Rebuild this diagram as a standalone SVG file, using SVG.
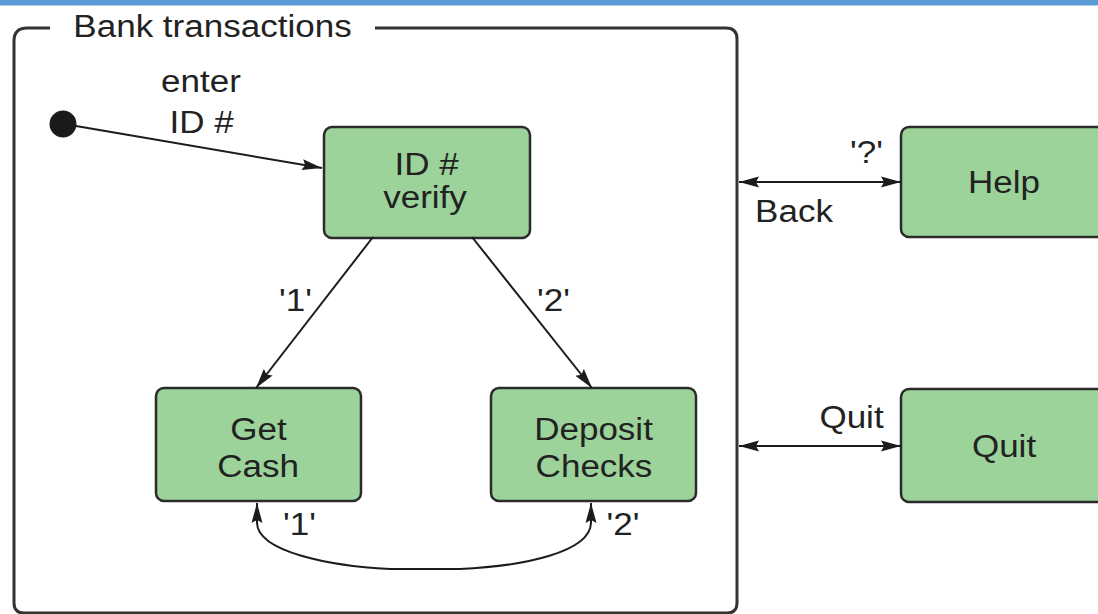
<svg xmlns="http://www.w3.org/2000/svg" width="1098" height="614" viewBox="0 0 1098 614">
<style>
.node{fill:#9cd39a;stroke:#2b2b2b;stroke-width:2.5}
.t{font-family:"Liberation Sans",Arial,Helvetica,sans-serif;font-size:31px;fill:#222;text-anchor:middle}
.c{fill:none;stroke:#1c1c1c;stroke-width:2}
.frame{fill:none;stroke:#333;stroke-width:3}
</style>
<defs>
<marker id="ah" viewBox="0 0 20 12" refX="20" refY="6" markerWidth="20" markerHeight="12" markerUnits="userSpaceOnUse" orient="auto-start-reverse">
<path d="M0,0.5 L20,6 L0,11.5 L3,6 z" fill="#1c1c1c"/>
</marker>
</defs>
<rect x="0" y="0" width="1098" height="614" fill="#ffffff"/>
<rect x="0" y="0" width="1098" height="5.5" fill="#5b9bd5"/>

<g id="frame">
<path class="frame" d="M50,28 L27,28 Q14,28 14,41 L14,603 Q14,613 24,613 L727,613 Q737,613 737,603 L737,39 Q737,28 726,28 L375,28"/>
<text class="t" transform="translate(212.5,37) scale(1.13,1)">Bank transactions</text>
</g>

<g id="initial">
<circle cx="63" cy="124" r="13.5" fill="#1a1a1a"/>
</g>

<g id="verify">
<rect class="node" x="324" y="127" width="206" height="111" rx="8"/>
<text class="t" transform="translate(426.5,175) scale(1.13,1)">ID #</text>
<text class="t" transform="translate(425,208) scale(1.13,1)">verify</text>
</g>

<g id="getcash">
<rect class="node" x="156" y="388" width="205" height="113" rx="8"/>
<text class="t" transform="translate(258.5,440) scale(1.13,1)">Get</text>
<text class="t" transform="translate(258,477) scale(1.13,1)">Cash</text>
</g>

<g id="deposit">
<rect class="node" x="491" y="388" width="205" height="113" rx="8"/>
<text class="t" transform="translate(593.5,440) scale(1.13,1)">Deposit</text>
<text class="t" transform="translate(594,477) scale(1.13,1)">Checks</text>
</g>

<g id="help">
<rect class="node" x="901" y="127" width="206" height="110" rx="8"/>
<text class="t" transform="translate(1004,193) scale(1.13,1)">Help</text>
</g>

<g id="quit">
<rect class="node" x="901" y="389" width="206" height="113" rx="8"/>
<text class="t" transform="translate(1004,457) scale(1.13,1)">Quit</text>
</g>

<g id="connectors">
<line class="c" x1="76" y1="126" x2="322" y2="168" marker-end="url(#ah)"/>
<text class="t" transform="translate(201,92) scale(1.13,1)">enter</text>
<text class="t" transform="translate(201.5,133) scale(1.13,1)">ID #</text>

<line class="c" x1="373" y1="237" x2="256" y2="388" marker-end="url(#ah)"/>
<text class="t" transform="translate(295.5,311) scale(1.13,1)">'1'</text>
<line class="c" x1="472" y1="237" x2="592" y2="388" marker-end="url(#ah)"/>
<text class="t" transform="translate(553.5,311) scale(1.13,1)">'2'</text>

<path class="c" d="M257,503 L257,523 C258,552 330,566 390,569 L460,569 C525,566 590,552 591,523 L591,503" marker-start="url(#ah)" marker-end="url(#ah)"/>
<text class="t" transform="translate(299.5,535) scale(1.13,1)">'1'</text>
<text class="t" transform="translate(623,535) scale(1.13,1)">'2'</text>

<line class="c" x1="739" y1="182" x2="901" y2="182" marker-start="url(#ah)" marker-end="url(#ah)"/>
<text class="t" transform="translate(866.5,163) scale(1.13,1)">'?'</text>
<text class="t" transform="translate(794,222) scale(1.13,1)">Back</text>

<line class="c" x1="739" y1="446" x2="901" y2="446" marker-start="url(#ah)" marker-end="url(#ah)"/>
<text class="t" transform="translate(851.5,428) scale(1.13,1)">Quit</text>
</g>
</svg>
